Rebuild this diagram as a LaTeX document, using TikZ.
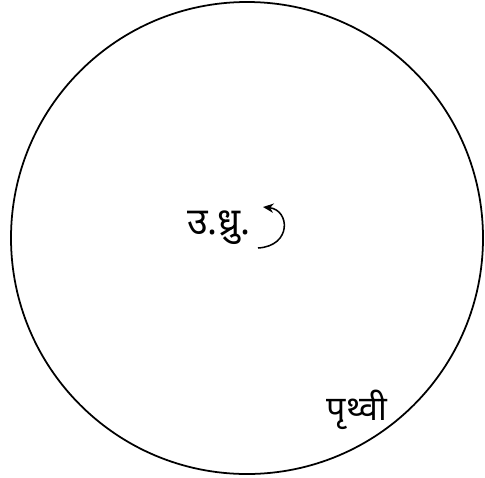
\documentclass[tikz,border=0pt]{standalone}
\usepackage{fontspec}
\newfontfamily\devfont[Script=Devanagari]{Noto Sans}
\usetikzlibrary{arrows.meta}

\begin{document}
\begin{tikzpicture}[
  x=0.03cm, y=-0.03cm,
  lbl/.style={
    font=\devfont\fontsize{32}{36}\selectfont,
    inner sep=0pt
  }
]
\useasboundingbox (0,0) rectangle (485,477);
\draw[line width=1.5pt] (247,238) circle[radius=236];
\node[lbl] (pole) at (219,228) {उ.ध्रु.};
\node[lbl,font=\devfont\fontsize{29}{33}\selectfont] (earth) at (357,410) {पृथ्वी};
\coordinate (spinA) at (258,248);
\coordinate (spinB) at (263,207);
\draw[line width=1.3pt,-{Stealth[length=9pt,width=8pt]}] (spinA) .. controls (292,246) and (290,210) .. (spinB);
\end{tikzpicture}
\end{document}
